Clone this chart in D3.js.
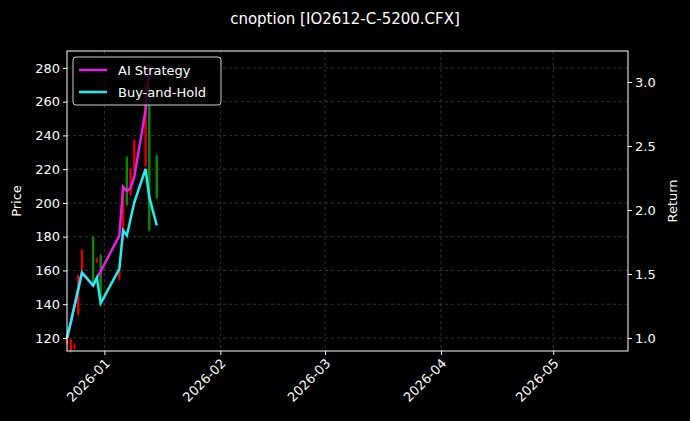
<!DOCTYPE html>
<html><head><meta charset="utf-8">
<script src="https://cdn.jsdelivr.net/npm/d3@7"></script>
<style>body{margin:0;background:#000}text{font-family:"DejaVu Sans",sans-serif}</style>
</head><body><div id="chart"></div>
<script>
// data
const candleDates = ["2025-12-22","2025-12-23","2025-12-24","2025-12-25","2025-12-26","2025-12-29","2025-12-30","2025-12-31","2026-01-05","2026-01-06","2026-01-07","2026-01-08","2026-01-09","2026-01-12","2026-01-13","2026-01-15"];
const candleOpen  = [119,119,116,157,172,152,167,142,160,210,199,220,237,271,184,203];
const candleClose = [117,112,114,134,160,180,165,169,155,178,227,205,220,222,267,228];
const candleHigh  = [120,120,117,158,173,180,168,170,161,211,228,221,238,272,268,229];
const candleLow   = [116,111,113,133,159,151,164,141,154,177,198,204,219,221,183,202];

const lineDates = ["2025-12-22","2025-12-23","2025-12-26","2025-12-29","2025-12-30","2025-12-31","2026-01-05","2026-01-06","2026-01-07","2026-01-09","2026-01-12","2026-01-13","2026-01-15"];
const bhReturn = [1.0,1.12,1.51,1.41,1.47,1.27,1.54,1.84,1.80,2.06,2.32,2.10,1.88];
const aiDates = ["2025-12-22","2025-12-23","2025-12-26","2025-12-29","2025-12-30","2025-12-31","2026-01-05","2026-01-06","2026-01-07","2026-01-08","2026-01-09","2026-01-12","2026-01-13"];
const aiReturn = [1.0,1.12,1.51,1.41,1.47,1.52,1.80,2.18,2.15,2.17,2.26,2.78,3.12];

const priceTicks = [120,140,160,180,200,220,240,260,280];
const returnTicks = [1.0,1.5,2.0,2.5,3.0];
const monthTicks = ["2026-01-01","2026-02-01","2026-03-01","2026-04-01","2026-05-01"];

const W = 690, H = 421;
const margin = { left: 67, top: 51, right: 62, bottom: 70 },
  w = W - margin.left - margin.right,
  h = H - margin.top - margin.bottom;
const parse = d3.utcParse("%Y-%m-%d");

const svg = d3.select("#chart").append("svg").attr("width", W).attr("height", H)
  .style("background", "#000");
svg.append("text").attr("x", W / 2).attr("y", 24).attr("text-anchor", "middle")
  .attr("fill", "#fff").attr("font-size", 15).text("cnoption [IO2612-C-5200.CFX]");

const g = svg.append("g").attr("transform", `translate(${margin.left},${margin.top})`);
const x = d3.scaleUtc().domain([parse("2025-12-22"), parse("2026-05-21")]).range([0, w]);
const y = d3.scaleLinear().domain([112.3, 290]).range([h, 0]);
const y2 = d3.scaleLinear().domain([0.898, 3.242]).range([h, 0]);

// grid
const grid = g.append("g").attr("stroke", "#555").attr("stroke-dasharray", "3,3").attr("stroke-width", 0.6);
monthTicks.forEach(m => grid.append("line").attr("x1", x(parse(m))).attr("x2", x(parse(m))).attr("y1", 0).attr("y2", h));
priceTicks.forEach(p => grid.append("line").attr("x1", 0).attr("x2", w).attr("y1", y(p)).attr("y2", y(p)));

// candles
g.selectAll(".wick").data(candleDates).enter().append("line")
  .attr("x1", d => x(parse(d))).attr("x2", d => x(parse(d)))
  .attr("y1", (d, i) => y(candleHigh[i])).attr("y2", (d, i) => y(candleLow[i]))
  .attr("stroke", (d, i) => candleClose[i] >= candleOpen[i] ? "#0a8a0a" : "#e00000").attr("stroke-width", 1);
g.selectAll(".body").data(candleDates).enter().append("rect")
  .attr("x", d => x(parse(d)) - 1.2).attr("width", 2.4)
  .attr("y", (d, i) => y(Math.max(candleOpen[i], candleClose[i])))
  .attr("height", (d, i) => Math.max(1, Math.abs(y(candleOpen[i]) - y(candleClose[i]))))
  .attr("fill", (d, i) => candleClose[i] >= candleOpen[i] ? "#0a8a0a" : "#e00000");

// lines
const line = (dates) => d3.line().x((d, i) => x(parse(dates[i]))).y(d => y2(d));
g.append("path").attr("fill", "none").attr("stroke", "#e81ee8").attr("stroke-width", 2.5)
  .attr("d", line(aiDates)(aiReturn));
g.append("path").attr("fill", "none").attr("stroke", "#22eeee").attr("stroke-width", 2.5)
  .attr("d", line(lineDates)(bhReturn));

// axes
const xAxis = g.append("g").attr("transform", `translate(0,${h})`)
  .call(d3.axisBottom(x).tickValues(monthTicks.map(parse)).tickFormat(d3.utcFormat("%Y-%m")).tickSize(4));
xAxis.selectAll("text").attr("font-size", 13).attr("text-anchor", "end")
  .attr("transform", "rotate(-45)").attr("dx", "-0.4em").attr("dy", "0.5em");
const yAxis = g.append("g").call(d3.axisLeft(y).tickValues(priceTicks).tickSize(4));
yAxis.selectAll("text").attr("font-size", 13);
const yAxis2 = g.append("g").attr("transform", `translate(${w},0)`)
  .call(d3.axisRight(y2).tickValues(returnTicks).tickFormat(d3.format(".1f")).tickSize(4));
yAxis2.selectAll("text").attr("font-size", 13);
[xAxis, yAxis, yAxis2].forEach(a => {
  a.selectAll("text").attr("fill", "#fff");
  a.selectAll("line").attr("stroke", "#fff");
  a.select(".domain").remove();
});
g.append("rect").attr("width", w).attr("height", h).attr("fill", "none").attr("stroke", "#fff");

svg.append("text").attr("transform", `translate(21,${margin.top + h / 2}) rotate(-90)`)
  .attr("text-anchor", "middle").attr("fill", "#fff").attr("font-size", 13).text("Price");
svg.append("text").attr("transform", `translate(677,${margin.top + h / 2}) rotate(-90)`)
  .attr("text-anchor", "middle").attr("fill", "#fff").attr("font-size", 13).text("Return");

// legend
const lg = g.append("g").attr("transform", "translate(6,6)");
lg.append("rect").attr("width", 148).attr("height", 48).attr("rx", 3)
  .attr("fill", "#000").attr("fill-opacity", 0.8).attr("stroke", "#ccc");
[["AI Strategy", "#e81ee8"], ["Buy-and-Hold", "#22eeee"]].forEach(([t, c], i) => {
  lg.append("line").attr("x1", 6).attr("x2", 34).attr("y1", 13 + i * 22).attr("y2", 13 + i * 22)
    .attr("stroke", c).attr("stroke-width", 2.5);
  lg.append("text").attr("x", 45).attr("y", 18 + i * 22).attr("fill", "#fff").attr("font-size", 13).text(t);
});
</script></body></html>
